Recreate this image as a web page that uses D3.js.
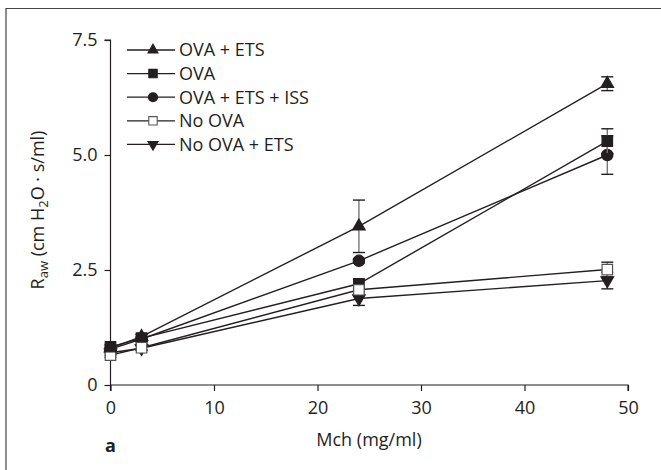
<!DOCTYPE html>
<html><head><meta charset="utf-8">
<script src="https://cdn.jsdelivr.net/npm/d3@7"></script>
<style>body{margin:0;background:#fff}svg{display:block}text{font-family:"Open Sans","Noto Sans",sans-serif;fill:#231f20}</style>
</head><body><svg id="c" width="661" height="470"></svg>
<script>
const doses = [0, 3, 24, 48];
const seriesNames = ["OVA + ETS", "OVA", "OVA + ETS + ISS", "No OVA", "No OVA + ETS"];
const ovaEts      = [0.80, 1.05, 3.45, 6.55];
const ovaEtsErr   = [0.05, 0.05, 0.57, 0.15];
const ova         = [0.83, 1.02, 2.20, 5.30];
const ovaErr      = [0.05, 0.08, 0.10, 0.27];
const ovaEtsIss   = [0.78, 1.00, 2.70, 5.00];
const ovaEtsIssErr= [0.03, 0.05, 0.05, 0.42];
const noOva       = [0.65, 0.81, 2.07, 2.51];
const noOvaErr    = [0.05, 0.05, 0.10, 0.16];
const noOvaEts    = [0.70, 0.80, 1.88, 2.27];
const noOvaEtsErr = [0.05, 0.05, 0.15, 0.18];
const xTicks = [0, 10, 20, 30, 40, 50];
const yTicks = [0, 2.5, 5.0, 7.5];

const series = [
  {name: seriesNames[0], v: ovaEts, e: ovaEtsErr, sym: "tri", fill: "#231f20"},
  {name: seriesNames[1], v: ova, e: ovaErr, sym: "sq", fill: "#231f20"},
  {name: seriesNames[2], v: ovaEtsIss, e: ovaEtsIssErr, sym: "circ", fill: "#231f20"},
  {name: seriesNames[3], v: noOva, e: noOvaErr, sym: "sq", fill: "#fff"},
  {name: seriesNames[4], v: noOvaEts, e: noOvaEtsErr, sym: "dtri", fill: "#231f20"}
];

const svg = d3.select("#c");
const ink = "#231f20";
const FS = "18px";
svg.append("path").attr("d","M6,475V8.5H670").attr("fill","none").attr("stroke","#444").attr("stroke-width",1.2);

const x = d3.scaleLinear().domain([0, 50]).range([110.5, 628]);
const y = d3.scaleLinear().domain([0, 7.5]).range([385, 40]);

const xa = svg.append("g").attr("transform","translate(0,385)")
  .call(d3.axisBottom(x).tickValues(xTicks).tickFormat(d3.format("d")).tickSize(6).tickPadding(5));
const ya = svg.append("g").attr("transform","translate(110.5,0)")
  .call(d3.axisLeft(y).tickValues(yTicks).tickFormat(d => d === 0 ? "0" : d3.format(".1f")(d)).tickSize(6).tickPadding(7));
[xa, ya].forEach(a => {
  a.select(".domain").attr("stroke", ink).attr("stroke-width", 1.2);
  a.selectAll(".tick line").attr("stroke", ink).attr("stroke-width", 1.2);
  a.selectAll("text").style("font-size", FS).attr("fill", ink);
});
xa.select(".domain").attr("d","M110.5,0H628V6");
ya.select(".domain").attr("d","M-6,40H0V391");
xa.selectAll(".tick text").attr("y", 29).attr("dy", 0);

svg.append("text").attr("x", 369).attr("y", 446).attr("text-anchor","middle").style("font-size", FS).text("Mch (mg/ml)");
const yl = svg.append("text").attr("transform","translate(44,210) rotate(-90)").attr("text-anchor","middle").style("font-size", FS);
yl.append("tspan").text("R");
yl.append("tspan").attr("dy",4).style("font-size","13px").text("aw");
yl.append("tspan").attr("dy",-4).text(" (cm H");
yl.append("tspan").attr("dy",4).style("font-size","13px").text("2");
yl.append("tspan").attr("dy",-4).text("O \u00b7 s/ml)");
svg.append("text").attr("x", 105).attr("y", 452).style("font-size", FS).style("font-weight","bold").text("a");

function symPath(s, scale) {
  const k = scale || 1;
  if (s === "tri" || s === "dtri") return d3.symbol(d3.symbolTriangle, 68*k*k)();
  if (s === "sq") return d3.symbol(d3.symbolSquare, 110*k*k)();
  return d3.symbol(d3.symbolCircle, 100*k*k)();
}

const line = d3.line().x((d,i) => x(doses[i])).y(d => y(d));
const order = [2, 1, 4, 3, 0];
order.forEach(si => {
  const s = series[si];
  svg.append("path").attr("d", line(s.v)).attr("fill","none").attr("stroke", ink).attr("stroke-width", 1.4);
});
order.forEach(si => {
  const s = series[si];
  const g = svg.append("g");
  s.v.forEach((v, i) => {
    const cx = x(doses[i]);
    const top = y(v + s.e[i]), bot = y(v - s.e[i]);
    g.append("line").attr("x1",cx).attr("x2",cx).attr("y1",top).attr("y2",bot).attr("stroke","#777").attr("stroke-width",1.4);
    g.append("line").attr("x1",cx-6).attr("x2",cx+6).attr("y1",top).attr("y2",top).attr("stroke",ink).attr("stroke-width",1.4);
    g.append("line").attr("x1",cx-6).attr("x2",cx+6).attr("y1",bot).attr("y2",bot).attr("stroke",ink).attr("stroke-width",1.4);
  });
  s.v.forEach((v, i) => {
    g.append("path").attr("d", symPath(s.sym))
      .attr("transform", `translate(${x(doses[i])},${y(v)})` + (s.sym === "dtri" ? " rotate(180)" : ""))
      .attr("fill", s.fill).attr("stroke", s.fill === "#fff" ? "#555" : ink).attr("stroke-width", 1.2);
  });
});

const lg = svg.append("g");
series.forEach((s, i) => {
  const ly = 50 + i * 23.6;
  lg.append("line").attr("x1",127).attr("x2",175).attr("y1",ly).attr("y2",ly).attr("stroke",ink).attr("stroke-width",1.3);
  lg.append("path").attr("d", symPath(s.sym, 0.8))
    .attr("transform", `translate(153,${ly})` + (s.sym === "dtri" ? " rotate(180)" : ""))
    .attr("fill", s.fill).attr("stroke", s.fill === "#fff" ? "#555" : ink).attr("stroke-width", 1.1);
  lg.append("text").attr("x", 179).attr("y", ly).attr("dy","0.35em").style("font-size", FS).text(s.name);
});
</script></body></html>
